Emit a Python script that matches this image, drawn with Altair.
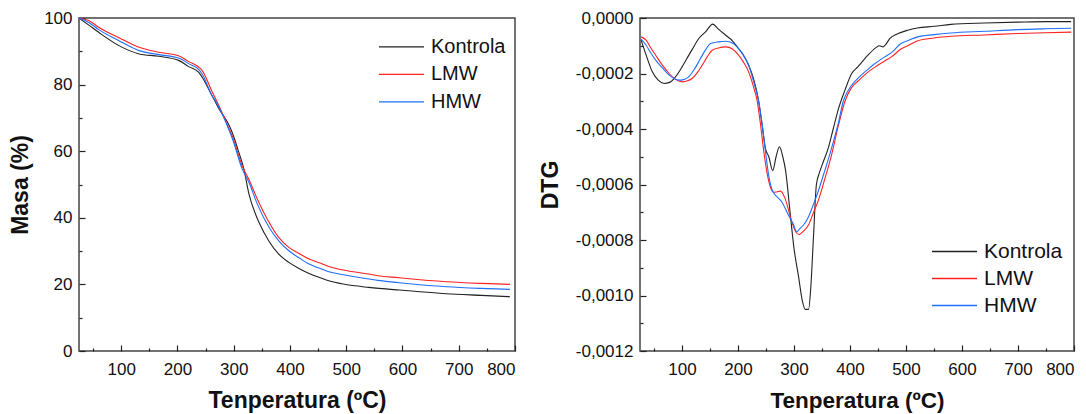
import altair as alt
import pandas as pd

FONT = "Liberation Sans"
series = ["Kontrola", "LMW", "HMW"]
colors = ["#222222", "#ff2020", "#1f6fff"]

# ---- TGA (mass %) ----
tga_k_t = [25, 43, 60, 96, 132, 167, 203, 220, 238, 244, 262, 274, 292, 298, 309, 318, 327, 339, 345, 363, 380, 398, 416, 434, 452, 469, 495, 540, 594, 617, 678, 740, 791]
tga_k_m = [100, 97.8, 95.7, 91.7, 89.2, 88.5, 87.2, 85.4, 83.7, 82.2, 76.5, 72.7, 67.7, 65.3, 59.7, 54.7, 47.2, 41.0, 38.6, 32.9, 29.1, 26.6, 24.8, 23.3, 22.1, 21.1, 20.1, 19.1, 18.3, 18.0, 17.2, 16.7, 16.3]

tga_l_t = [25, 43, 60, 96, 132, 167, 203, 220, 238, 244, 262, 268, 292, 298, 315, 327, 342, 363, 380, 398, 416, 434, 452, 469, 495, 540, 556, 594, 617, 678, 740, 791]
tga_l_m = [100, 99.2, 97.2, 94.1, 91.2, 89.7, 88.6, 86.9, 85.2, 84.2, 77.7, 75.7, 66.7, 64.3, 55.6, 51.5, 45.6, 38.6, 34.1, 31.1, 29.3, 27.6, 26.5, 25.4, 24.3, 23.1, 22.6, 22.0, 21.6, 20.8, 20.3, 20.0]

tga_h_t = [25, 43, 60, 96, 132, 167, 203, 220, 238, 244, 262, 268, 292, 298, 315, 327, 342, 363, 380, 398, 416, 434, 452, 469, 495, 540, 556, 594, 617, 678, 740, 791]
tga_h_m = [100, 98.6, 96.5, 93.2, 90.2, 89.0, 87.9, 86.3, 84.5, 83.2, 76.5, 75.0, 66.2, 63.6, 54.7, 50.7, 44.1, 37.1, 33.1, 30.1, 28.0, 26.1, 24.9, 23.8, 22.9, 21.6, 21.2, 20.5, 20.1, 19.3, 18.8, 18.5]

# ---- DTG ----
dtg_k_t = [27, 36, 47, 58, 68, 78, 86, 96, 107, 118, 130, 142, 155, 165, 178, 190, 201, 210, 219, 228, 237, 244, 249, 255, 262, 268, 274, 280, 285, 293, 300, 308, 315, 320, 326, 330, 335, 340, 345, 352, 361, 370, 379, 391, 403, 414, 432, 447, 452, 459, 465, 471, 486, 503, 520, 551, 580, 640, 699, 750, 795]
dtg_k_v = [-0.00008, -0.000134, -0.000194, -0.000225, -0.000236, -0.000232, -0.000218, -0.00019, -0.000152, -0.000114, -0.000074, -0.00005, -0.000022, -0.00004, -0.000062, -0.000082, -0.00011, -0.000135, -0.00017, -0.00022, -0.0003, -0.0004, -0.00047, -0.0005, -0.00055, -0.0005, -0.000464, -0.0005, -0.00055, -0.0007, -0.00083, -0.00093, -0.00102, -0.00105, -0.00105, -0.00097, -0.00078, -0.0006, -0.00056, -0.00052, -0.00047, -0.0004, -0.00033, -0.00026, -0.0002, -0.000176, -0.000134, -0.000106, -0.0001, -0.000104, -0.000092, -0.000074, -0.000056, -0.000044, -0.000036, -0.00003, -0.000023, -0.000018, -0.000015, -0.000013, -0.000013]

dtg_l_t = [27, 36, 45, 53, 65, 77, 89, 101, 110, 118, 127, 136, 145, 154, 165, 178, 190, 201, 210, 219, 228, 234, 240, 246, 252, 258, 264, 270, 276, 284, 296, 303, 309, 316, 326, 335, 343, 355, 367, 379, 391, 403, 414, 432, 444, 462, 474, 491, 503, 521, 550, 580, 640, 699, 750, 795]
dtg_l_v = [-0.000068, -0.00008, -0.00011, -0.000134, -0.00017, -0.0002, -0.000222, -0.00023, -0.000226, -0.000218, -0.000198, -0.00017, -0.00014, -0.000116, -0.000108, -0.000104, -0.000112, -0.000134, -0.00016, -0.000194, -0.00025, -0.000296, -0.00038, -0.00048, -0.00056, -0.00061, -0.000628, -0.000626, -0.000624, -0.00065, -0.000734, -0.00077, -0.00078, -0.00077, -0.000746, -0.0007, -0.00066, -0.00058, -0.000494, -0.00039, -0.0003, -0.00025, -0.000228, -0.000195, -0.000178, -0.000155, -0.00014, -0.000112, -0.0001, -0.000082, -0.000072, -0.000066, -0.000061, -0.000056, -0.000053, -0.000051]

dtg_h_t = [27, 36, 45, 53, 65, 77, 86, 94, 103, 112, 122, 133, 142, 151, 165, 178, 190, 201, 210, 219, 228, 237, 243, 249, 255, 261, 270, 278, 290, 298, 305, 310, 317, 326, 335, 343, 355, 367, 379, 388, 397, 414, 432, 444, 462, 474, 491, 503, 521, 550, 580, 640, 699, 750, 795]
dtg_h_v = [-0.000076, -0.000098, -0.000128, -0.000152, -0.00018, -0.000206, -0.000218, -0.000224, -0.000222, -0.000212, -0.000185, -0.000146, -0.000115, -0.000092, -0.000086, -0.000084, -0.00009, -0.00011, -0.000135, -0.00017, -0.00023, -0.000302, -0.00038, -0.00048, -0.00057, -0.00062, -0.000645, -0.000662, -0.00071, -0.00074, -0.00077, -0.00076, -0.000746, -0.000716, -0.00067, -0.000626, -0.00055, -0.00047, -0.00038, -0.0003, -0.00026, -0.000218, -0.000185, -0.000165, -0.00014, -0.000125, -0.000092, -0.000082, -0.000068, -0.00006, -0.000054, -0.000048, -0.000042, -0.000039, -0.000037]

x_major = [100, 200, 300, 400, 500, 600, 700, 800]
x_minor = [50, 150, 250, 350, 450, 550, 650, 750]
yl_major = [0, 20, 40, 60, 80, 100]
yl_minor = [10, 30, 50, 70, 90]
yr_major = [0, -0.0002, -0.0004, -0.0006, -0.0008, -0.0010, -0.0012]
yr_minor = [-0.0001, -0.0003, -0.0005, -0.0007, -0.0009, -0.0011]


def long_df(parts):
    rows = []
    for name, ts, vs in parts:
        for t, v in zip(ts, vs):
            rows.append({"serie": name, "T": t, "v": v})
    return pd.DataFrame(rows)


tga = long_df([("Kontrola", tga_k_t, tga_k_m), ("LMW", tga_l_t, tga_l_m), ("HMW", tga_h_t, tga_h_m)])
dtg = long_df([("Kontrola", dtg_k_t, dtg_k_v), ("LMW", dtg_l_t, dtg_l_v), ("HMW", dtg_h_t, dtg_h_v)])

XT = "Tenperatura (ºC)"


def major_axis(orient, values, title, label_size, title_size, label_expr=None, title_pad=10, label_pad=7):
    kw = dict(orient=orient, values=values, offset=-6, tickSize=6, domain=False, grid=False,
              labelPadding=label_pad, labelFontSize=label_size, labelFont=FONT, labelColor="#111",
              title=title, titleFont=FONT, titleFontSize=title_size, titleFontWeight="bold", titleColor="#111",
              titlePadding=title_pad, tickColor="#222", tickWidth=1.2, labelOverlap=False)
    if label_expr:
        kw["labelExpr"] = label_expr
    return alt.Axis(**kw)


def minor_axis(orient, values):
    return alt.Axis(orient=orient, values=values, offset=-3, tickSize=3, domain=False, grid=False,
                    labels=False, title=None, tickColor="#222", tickWidth=1.2)


def legend(lx, ly, size, row_pad):
    return alt.Legend(title=None, orient="none", legendX=lx, legendY=ly, symbolType="stroke",
                      symbolSize=2025, symbolStrokeWidth=1.3, labelFontSize=size, labelFont=FONT,
                      labelColor="#111", labelOffset=6, padding=0, rowPadding=row_pad, clipHeight=20,
                      labelLimit=300, symbolOffset=0)


def panel(df, xdom, ydom, xa, ya, xm, ym, leg, w, h):
    xs = alt.Scale(domain=xdom, nice=False, zero=False)
    ys = alt.Scale(domain=ydom, nice=False, zero=False)
    lines = alt.Chart(df).mark_line(strokeWidth=1.1, interpolate="monotone").encode(
        x=alt.X("T:Q", scale=xs, axis=xa),
        y=alt.Y("v:Q", scale=ys, axis=ya),
        color=alt.Color("serie:N", scale=alt.Scale(domain=series, range=colors), legend=leg),
    )
    minor = alt.Chart(df).mark_line(opacity=0).encode(
        x=alt.X("T:Q", scale=xs, axis=xm),
        y=alt.Y("v:Q", scale=ys, axis=ym),
    )
    return alt.layer(lines, minor).resolve_axis(x="independent", y="independent").properties(width=w, height=h)


dtg_expr = "replace(replace(format(datum.value, '.4f'), '.', ','), '\\u2212', '-')"

left = panel(
    tga, [25, 800], [0, 100],
    major_axis("bottom", x_major, XT, 17, 23, title_pad=12, label_pad=10),
    major_axis("left", yl_major, "Masa (%)", 17, 23, title_pad=11, label_pad=7),
    minor_axis("bottom", x_minor), minor_axis("left", yl_minor),
    legend(299, 18.8, 20, 7.5), 436, 333,
)

right = panel(
    dtg, [25, 800], [-0.0012, 0],
    major_axis("bottom", x_major, XT, 17, 22.5, title_pad=12, label_pad=10),
    major_axis("left", yr_major, "DTG", 17, 23, label_expr=dtg_expr, title_pad=13, label_pad=7),
    minor_axis("bottom", x_minor), minor_axis("left", yr_minor),
    legend(291, 223.5, 21, 6), 434, 333,
)

chart = alt.hconcat(left, right, spacing=21).resolve_scale(color="independent").resolve_legend(
    color="independent"
).configure_view(stroke="#444", strokeWidth=1.5).properties(
    padding={"left": 8, "top": 8, "right": 5, "bottom": 5}
)

chart.save("out.html", embed_options={"renderer": "svg", "actions": False})
